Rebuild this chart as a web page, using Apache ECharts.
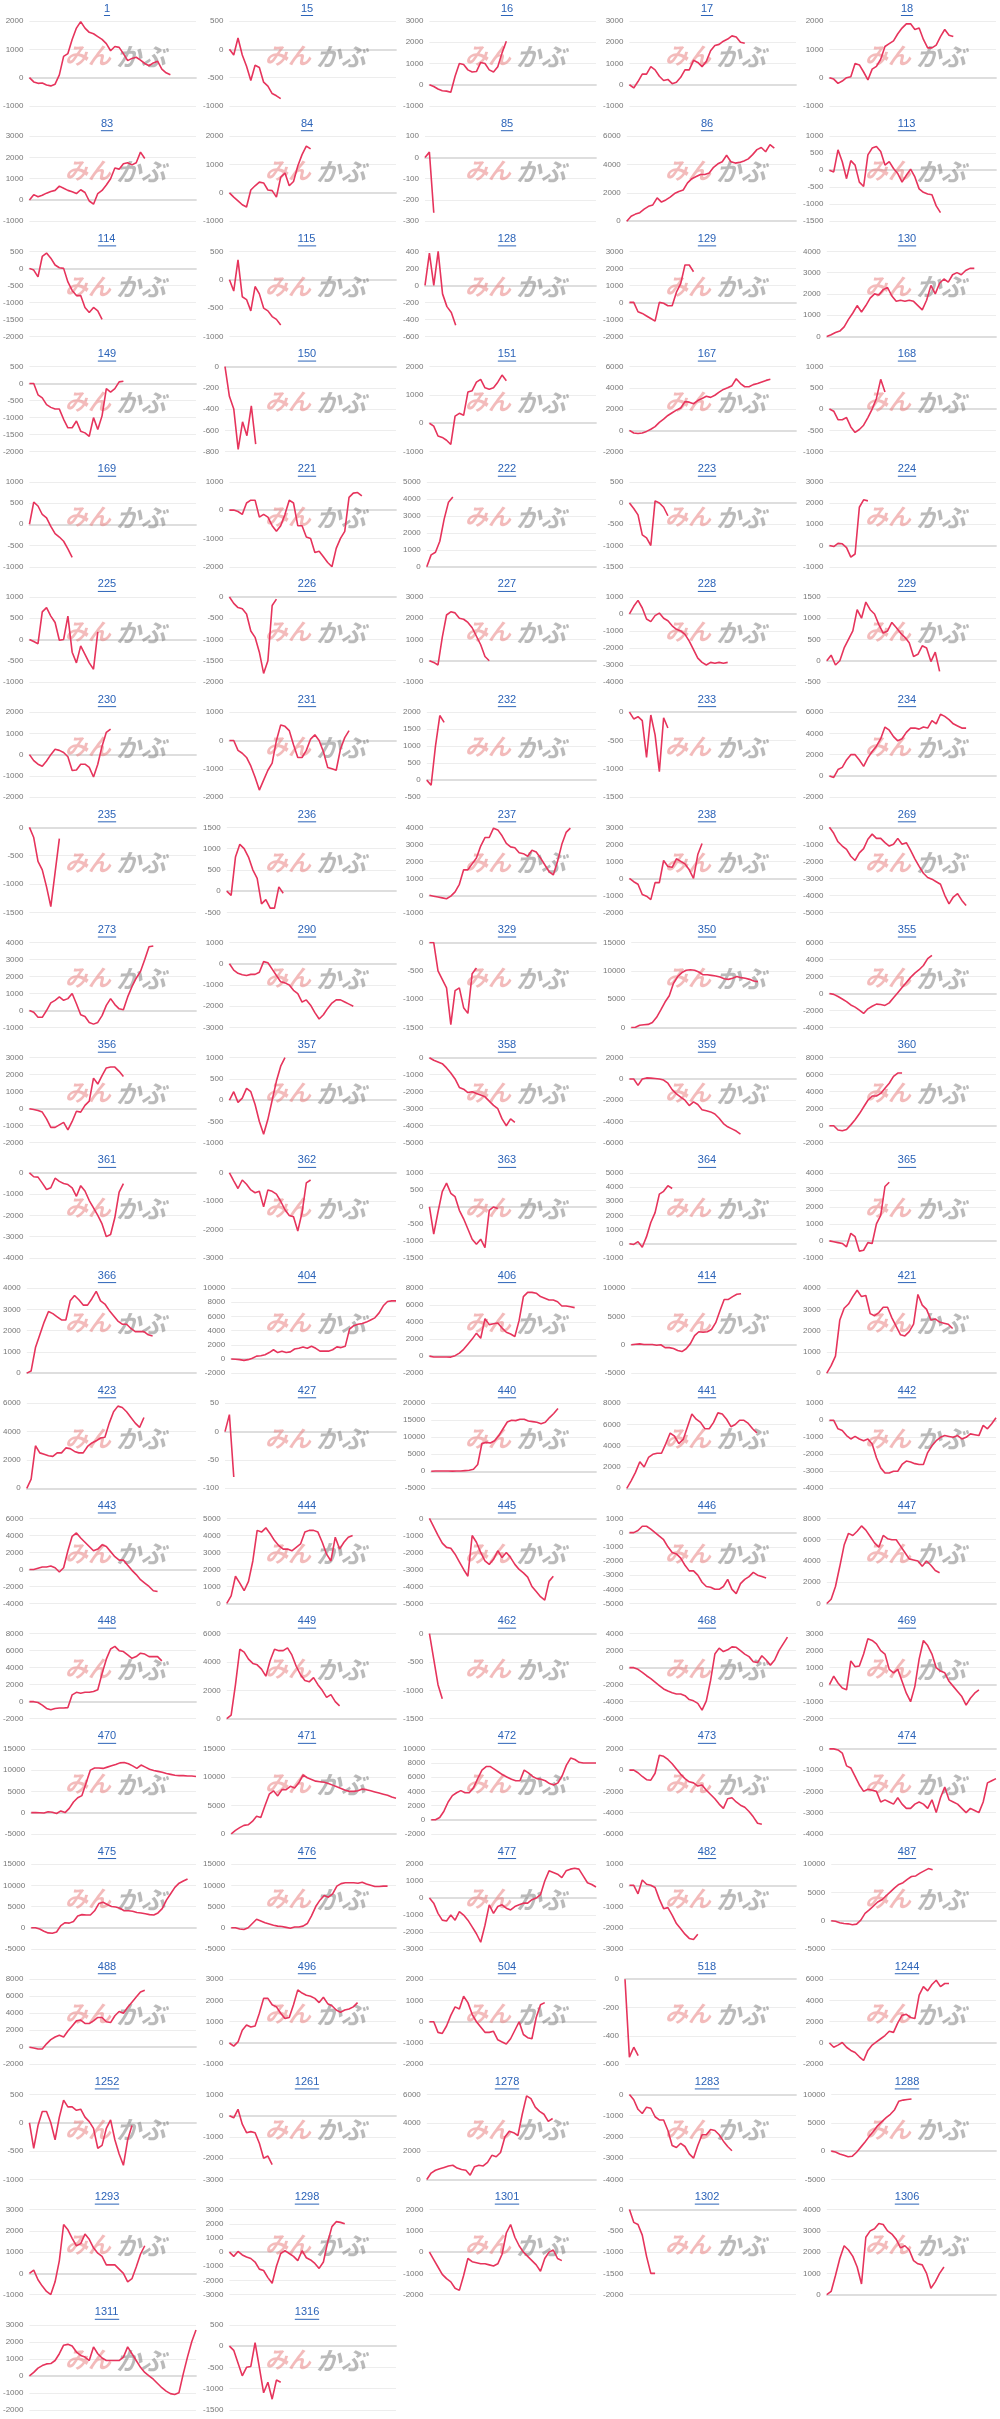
<!DOCTYPE html>
<html>
<head>
<meta charset="utf-8">
<script src="https://cdn.jsdelivr.net/npm/echarts@6/dist/echarts.min.js"></script>
<style>
  html, body { margin: 0; padding: 0; background: #fff; }
  #main { width: 1000px; height: 2419px; }
</style>
</head>
<body>
<div id="main"></div>
<script>
// チャートの銘柄番号（表示順）
const ids = [1,15,16,17,18,83,84,85,86,113,114,115,128,129,130,149,150,151,167,168,
  169,221,222,223,224,225,226,227,228,229,230,231,232,233,234,235,236,237,238,269,
  273,290,329,350,355,356,357,358,359,360,361,362,363,364,365,366,404,406,414,421,
  423,427,440,441,442,443,444,445,446,447,448,449,462,468,469,470,471,472,473,474,
  475,476,477,482,487,488,496,504,518,1244,1252,1261,1278,1283,1288,1293,1298,1301,1302,1306,
  1311,1316];

// y軸の範囲と目盛り間隔
const yMin = [-1000,-1000,-1000,-1000,-1000,-1000,-1000,-300,0,-1500,-2000,-1000,-600,-2000,0,-2000,-800,-1000,-2000,-1000,
  -1000,-2000,0,-1500,-1000,-1000,-2000,-1000,-4000,-500,-2000,-2000,-500,-1500,-2000,-1500,-500,-1000,-2000,-5000,
  -1000,-3000,-1500,0,-4000,-2000,-1000,-5000,-6000,-2000,-4000,-3000,-1500,-1000,-1000,0,-2000,-2000,-5000,0,
  0,-100,-5000,0,-4000,-4000,0,-5000,-5000,0,-2000,0,-1500,-6000,-2000,-5000,0,-2000,-6000,-4000,
  -5000,-5000,-3000,-3000,-5000,-2000,-1000,-2000,-600,-2000,-1000,-3000,0,-4000,-5000,-1000,-3000,-2000,-2000,0,
  -2000,-1500];
const yMax = [2000,500,3000,3000,2000,3000,2000,100,6000,1000,500,500,400,3000,4000,500,0,2000,6000,1000,
  1000,1000,5000,500,3000,1000,0,3000,1000,1500,2000,1000,2000,0,6000,0,1500,4000,3000,0,
  4000,1000,0,15000,6000,3000,1000,0,2000,8000,0,0,1000,5000,4000,4000,10000,8000,10000,4000,
  6000,50,20000,8000,1000,6000,5000,0,1000,8000,8000,6000,0,4000,3000,15000,15000,10000,2000,0,
  15000,15000,2000,1000,10000,8000,3000,2000,0,6000,500,1000,6000,0,10000,3000,3000,2000,0,4000,
  3000,500];
const yStep = [1000,500,1000,1000,1000,1000,1000,100,2000,500,500,500,200,1000,1000,500,200,1000,2000,500,
  500,1000,1000,500,1000,500,500,1000,1000,500,1000,1000,500,500,2000,500,500,1000,1000,1000,
  1000,1000,500,5000,2000,1000,500,1000,2000,2000,1000,1000,500,1000,1000,1000,2000,2000,5000,1000,
  2000,50,5000,2000,1000,2000,1000,1000,1000,2000,2000,2000,500,2000,1000,5000,5000,2000,2000,1000,
  5000,5000,1000,1000,5000,2000,1000,1000,200,2000,500,1000,2000,1000,5000,1000,1000,1000,500,1000,
  1000,500];

// 損益推移（各チャートの系列）
const d1 = [0,-150,-200,-190,-260,-290,-230,100,750,850,1350,1750,1980,1750,1600,1550,1450,1350,1200,950,1100,1070,850,600,680,720,620,500,420,520,580,300,170,100];
const d15 = [0,-100,200,-100,-300,-550,-280,-320,-580,-650,-780,-820,-870];
const d16 = [0,-80,-200,-280,-300,-350,400,1000,950,700,600,620,1050,1000,700,600,850,1500,2050];
const d17 = [0,-150,150,500,500,850,700,400,200,250,50,120,350,700,700,1150,1050,850,1100,1600,1850,1900,2050,2150,2300,2250,2000,1950];
const d18 = [0,-50,-200,-120,0,30,500,450,200,-80,300,400,650,1100,1200,1300,1550,1750,1900,1900,1700,1750,1350,1050,1050,1150,1450,1700,1500,1450];
const d83 = [0,250,150,220,320,400,450,650,550,450,380,300,480,350,-50,-200,300,450,700,1000,1500,1450,1700,1750,1650,1750,2250,1950];
const d84 = [0,-150,-280,-420,-500,100,250,380,350,100,80,-150,550,700,250,400,950,1350,1650,1550];
const d85 = [0,25,-260];
const d86 = [0,350,500,600,850,1050,1150,1650,1350,1500,1700,1950,2100,2200,2700,3000,3150,3300,3300,3400,3800,4050,4200,4650,4200,4100,4150,4250,4400,4700,5050,5200,4900,5400,5150];
const d113 = [0,-50,600,250,-250,280,150,-350,-480,450,650,700,550,150,250,50,-100,-350,-150,30,-200,-550,-650,-700,-720,-1050,-1250];
const d114 = [0,-50,-250,350,450,300,100,20,0,-400,-650,-800,-800,-1150,-1300,-1150,-1250,-1500];
const d115 = [0,-200,350,-300,-350,-550,-120,-250,-500,-550,-650,-700,-800];
const d128 = [0,380,0,400,-100,-250,-320,-470];
const d129 = [0,0,-550,-650,-800,-950,-1100,0,-50,-200,-200,600,1100,2200,2200,1800];
const d130 = [0,80,180,250,450,800,1100,1450,1150,1450,1800,2000,1950,2200,2300,1900,1650,1700,1650,1700,1650,1450,1250,1700,2400,2000,2500,2700,2550,2900,3000,2900,3100,3200,3200];
const d149 = [0,0,-330,-420,-620,-700,-750,-750,-1050,-1300,-1300,-1100,-1400,-1450,-1550,-1000,-1350,-950,-150,-250,-150,50,70];
const d150 = [0,-280,-400,-780,-520,-650,-370,-730];
const d151 = [0,-100,-450,-500,-600,-750,250,350,280,1100,1150,1450,1550,1250,1200,1250,1450,1700,1500];
const d167 = [0,-250,-300,-250,-100,100,350,750,1050,1400,1650,1900,2100,2700,2650,2500,2800,3000,3200,3100,3300,3600,3850,4000,4200,4850,4400,4100,4100,4300,4400,4550,4700,4800];
const d168 = [0,-50,-250,-250,-200,-420,-550,-480,-380,-200,0,250,700,400];
const d169 = [0,520,430,230,150,-50,-220,-300,-400,-580,-780];
const d221 = [0,0,-50,-150,250,350,350,-250,-150,-250,-550,-750,-550,-150,350,250,-550,-550,-950,-1000,-1500,-1450,-1650,-1850,-2000,-1350,-1000,-750,450,600,620,500];
const d222 = [0,700,850,1500,2800,3800,4100];
const d223 = [0,-130,-280,-750,-820,-1000,50,0,-100,-300];
const d224 = [0,-50,100,80,-100,-550,-400,1800,2150,2100];
const d225 = [0,-50,-100,650,750,550,400,-20,0,550,-300,-550,-150,-350,-550,-700,180];
const d226 = [0,-150,-250,-280,-400,-800,-950,-1300,-1800,-1500,-200,-50];
const d227 = [0,-80,-200,1100,2150,2300,2250,2000,1950,1800,1550,1150,750,200,0];
const d228 = [0,450,800,350,-300,-450,-100,50,-250,-400,-700,-900,-1000,-1200,-1600,-2100,-2600,-2850,-3000,-2850,-2900,-2850,-2900,-2850];
const d229 = [0,130,-100,0,300,500,700,1200,1000,1380,1200,1100,850,650,700,900,780,650,550,420,100,150,350,300,-20,200,-250];
const d230 = [0,-280,-450,-550,-300,0,250,200,100,-100,-750,-720,-450,-450,-600,-1050,-450,400,1050,1200];
const d231 = [0,0,-350,-450,-600,-900,-1300,-1750,-1400,-1050,-800,0,550,500,350,-150,-600,-600,-350,50,200,0,-400,-950,-1000,-1050,-300,100,350];
const d232 = [0,-150,1000,1900,1700];
const d233 = [0,-120,-80,-150,-800,-50,-400,-1050,-100,-280];
const d234 = [0,-150,600,800,1500,2000,2000,1500,900,1700,2300,2800,3500,4600,4300,3700,3300,3500,4100,4500,4500,4400,4600,4500,5200,4900,5800,5600,5300,4900,4700,4500,4500];
const d235 = [0,-180,-600,-750,-1050,-1400,-800,-200];
const d236 = [0,-100,800,1100,1000,800,500,300,-300,-200,-400,-400,100,-50];
const d237 = [0,-50,-100,-150,-200,-50,200,650,1500,1500,1850,2200,2900,3400,3400,3950,3850,3500,3050,2850,2800,2500,2450,2300,2650,2550,2200,1800,1400,1200,2000,3000,3700,3950];
const d238 = [0,-200,-350,-950,-1050,-1250,-250,-250,1050,700,650,1150,1000,850,500,0,1400,2050];
const d269 = [0,-350,-850,-1100,-1300,-1700,-1950,-1500,-1250,-700,-400,-650,-650,-900,-1100,-1000,-650,-1000,-900,-1350,-1850,-2300,-2700,-2950,-3050,-3200,-3350,-4000,-4500,-4100,-3900,-4300,-4600];
const d273 = [0,-100,-400,-400,0,450,600,800,600,700,1000,400,-250,-350,-700,-800,-700,-300,300,700,350,100,50,800,1400,1900,2300,3000,3750,3800];
const d290 = [0,-300,-450,-520,-550,-500,-500,-400,100,50,-250,-550,-850,-900,-1000,-1250,-1400,-1800,-1700,-1950,-2300,-2600,-2400,-2100,-1850,-1700,-1700,-1800,-1900,-2000];
const d329 = [0,0,-500,-650,-800,-1450,-850,-800,-1150,-1250,-550,-450];
const d350 = [0,50,400,500,550,900,1800,3100,4500,5600,7800,9000,9700,10100,10200,10100,9800,9300,9300,9200,9100,8900,8600,8500,8700,9000,8800,8700,8500,8200,8100];
const d355 = [0,-100,-350,-650,-950,-1350,-1600,-1950,-2350,-1800,-1500,-1250,-1300,-1400,-1100,-500,100,700,1300,1900,2400,2800,3300,4100,4500];
const d356 = [0,-50,-100,-200,-600,-1100,-1100,-950,-800,-1250,-750,-150,-200,200,450,1800,1450,1950,2400,2450,2450,2200,1900];
const d357 = [0,200,-50,50,280,200,-100,-500,-800,-450,0,450,800,1000];
const d358 = [0,-150,-250,-350,-600,-900,-1250,-1750,-1850,-2050,-2000,-2100,-2200,-2300,-2550,-2800,-3000,-3600,-4000,-3600,-3800];
const d359 = [0,0,-600,0,100,80,50,0,-100,-400,-1000,-1400,-1700,-2000,-2500,-2150,-2400,-2900,-3000,-3100,-3300,-3700,-4200,-4500,-4700,-4900,-5200];
const d360 = [0,0,-500,-600,-450,100,700,1400,2200,3000,3500,3500,3800,4400,5000,5800,6200,6200];
const d361 = [0,-180,-200,-480,-780,-700,-250,-400,-500,-550,-700,-1100,-600,-850,-1300,-1650,-2000,-2400,-3000,-2900,-2100,-900,-500];
const d362 = [0,-280,-550,-250,-400,-600,-700,-650,-1200,-600,-650,-750,-1000,-1300,-1500,-1550,-2050,-1400,-350,-250];
const d363 = [0,-800,-150,450,700,400,300,-100,-350,-650,-950,-1100,-950,-1200,-100,0,-50];
const d364 = [0,-50,150,-250,500,1500,2200,3500,3700,4100,3900];
const d365 = [0,-50,-100,-150,-350,450,250,-600,-550,-100,-150,1000,1500,3200,3450];
const d366 = [0,100,1200,1800,2400,2900,2800,2650,2500,2500,3400,3650,3450,3200,3200,3500,3850,3400,3250,2950,2700,2450,2300,2300,2100,1950,1950,1950,1800,1750];
const d404 = [0,-50,-100,-200,-100,100,400,450,600,900,1300,900,1100,900,1000,1400,1500,1700,1500,1800,1500,1100,1100,1100,1300,1700,1600,1800,4200,4700,4900,5000,5200,5500,5800,6500,7500,8100,8200,8200];
const d406 = [0,-100,-100,-100,-100,-120,50,350,800,1400,2000,2700,2100,4400,3700,3800,3900,3300,2800,2600,2300,4200,7000,7500,7500,7400,7000,6800,6600,6600,6400,5900,5900,5800,5700];
const d414 = [0,100,150,50,50,50,-100,0,-500,-500,-650,-1000,-1200,-700,200,1600,2300,2200,2300,2700,3900,6000,8000,8000,8500,8900,9000];
const d421 = [0,350,800,2500,3050,3250,3600,3900,3600,3650,2800,2700,2850,3100,3100,2600,2200,1800,1750,1950,2300,3700,3200,3000,2500,2550,2400,2350,2300,2100];
const d423 = [0,650,3000,2500,2400,2300,2250,2500,2500,2850,2800,2600,2500,2500,2950,3200,3350,3550,3600,4600,5400,5800,5700,5400,5000,4600,4300,5000];
const d427 = [0,30,-80];
const d440 = [0,100,100,100,100,50,100,100,200,300,600,2000,8200,8500,8300,9000,10500,12500,14500,15000,14900,15300,15300,14800,14600,14400,14000,14400,15800,17000,18500];
const d441 = [0,700,1500,2500,2000,2900,3200,3300,3300,4200,5200,4900,4200,4600,5800,7000,6500,6200,5600,5600,6200,7100,7000,6500,5800,6000,6400,6400,6100,5600,5200];
const d442 = [0,0,-500,-600,-900,-1100,-950,-1100,-1200,-1100,-1400,-2200,-2800,-3100,-3100,-3000,-3000,-2600,-2400,-2450,-2550,-2600,-2600,-1900,-1500,-1200,-1000,-900,-950,-1000,-900,-1100,-1000,-800,-850,-900,-300,-500,-200,150];
const d443 = [0,0,150,300,300,400,200,-300,200,2200,3900,4300,3700,3200,2700,2200,2400,2900,2700,2100,1500,1100,1100,500,-100,-600,-1200,-1600,-2000,-2500,-2600];
const d444 = [0,450,1600,1200,750,1300,2500,4300,4200,4450,4100,3700,3400,3200,3200,3100,3300,3500,4200,4300,4300,4200,3600,2900,2500,3900,3200,3600,3900,4000];
const d445 = [0,-500,-1000,-1450,-1700,-1750,-2100,-2550,-3000,-3400,-1000,-1400,-2000,-2500,-2700,-2400,-1900,-2300,-2000,-2300,-2700,-3000,-3200,-3450,-4000,-4300,-4600,-4800,-3700,-3400];
const d446 = [0,0,150,450,450,250,0,-250,-500,-1000,-1400,-1500,-1800,-2300,-2700,-2700,-3000,-3500,-3800,-3850,-4000,-4000,-3800,-3300,-4000,-4300,-3600,-3300,-3100,-2800,-3000,-3100,-3200];
const d447 = [0,400,1600,3500,5500,6600,6400,6800,7300,6900,6300,5700,5300,6400,6100,6000,6000,5400,4800,4200,4100,4000,3500,4000,3600,3100,2900];
const d448 = [0,0,-100,-400,-800,-950,-800,-750,-750,-700,800,1100,1000,1100,1100,1200,1400,3300,5000,6200,6500,6000,5900,5500,5100,5300,5700,5600,5300,5300,5300,4800];
const d449 = [0,250,2400,4900,4700,4200,3900,3800,3500,3000,4100,4900,4800,4800,5000,4500,3700,3100,2700,2600,2900,2400,2000,1500,1700,1200,900];
const d462 = [0,-450,-900,-1150];
const d468 = [0,0,-200,-550,-950,-1300,-1700,-2100,-2500,-2750,-2950,-3100,-3100,-3300,-3750,-3900,-4200,-5000,-3900,-1500,1600,2300,1900,2100,2450,2400,2000,1600,1300,700,600,1400,900,300,900,2000,2800,3600];
const d469 = [0,500,100,-200,-300,1400,1050,1100,1800,2700,2600,2400,2000,1800,900,700,900,200,-500,-1000,-100,1500,2600,2300,1800,1000,800,700,200,-100,-400,-700,-1200,-800,-500,-300];
const d470 = [0,0,-50,-100,200,100,-200,400,0,1000,2500,3500,4000,7000,10000,10500,10500,10400,10700,11000,11300,11700,11800,11500,11000,10400,11200,10700,10200,9900,9700,9500,9200,9000,8800,8700,8700,8600,8600,8500];
const d471 = [0,600,1100,1500,1600,2200,3100,2900,5000,7000,7600,6700,7800,7800,8400,8100,9000,10400,9900,9600,9300,9200,9100,8900,8600,8300,8000,7700,7500,7500,7600,7900,7800,7600,7400,7200,7000,6800,6500,6300];
const d472 = [0,0,300,1200,2500,3400,3800,4100,3800,3800,4500,5800,7000,7500,7500,7100,6700,6300,6000,5700,5500,5500,7000,6600,6100,5800,5700,5500,5100,4900,5200,6200,7700,8700,8500,8100,8000,8000,8000,8000];
const d473 = [0,0,-250,-600,-900,-950,-300,1400,1300,1000,600,100,-400,-800,-1100,-1200,-1500,-1400,-1900,-2300,-2700,-3200,-3600,-2700,-2600,-3000,-3300,-3500,-3900,-4400,-5000,-5100];
const d474 = [0,0,-50,-200,-800,-900,-1300,-1700,-2000,-1900,-1950,-2000,-2500,-2400,-2500,-2600,-2300,-2600,-2800,-2800,-2600,-2500,-2600,-2800,-2400,-3000,-2300,-1800,-2400,-2500,-2600,-2800,-3000,-2800,-2900,-3000,-2500,-1600,-1500,-1400];
const d475 = [0,0,-300,-800,-1200,-1300,-1000,500,1200,1100,1500,2800,3100,3000,3000,4000,5700,6000,5500,5000,4900,4600,4000,4000,3900,3600,3500,3300,3100,3000,3500,4500,6500,8000,9500,10500,11000,11500];
const d476 = [0,0,-300,-400,0,1000,2000,1600,1200,900,600,400,300,100,-100,200,200,400,1000,2800,5000,6500,7600,7200,8000,9800,10400,10600,10600,10600,10500,10700,10300,10000,9700,9700,9800,9800];
const d477 = [0,-300,-900,-1300,-1350,-1000,-1300,-800,-1000,-1300,-1700,-2100,-2600,-1600,-400,-900,-500,-400,-600,-700,-500,-400,-300,-300,-100,0,200,1000,1600,1500,1400,1200,1600,1700,1750,1700,1300,900,800,650];
const d482 = [0,0,-400,250,50,0,-100,-650,-1100,-1050,-1400,-1800,-2050,-2300,-2500,-2550,-2300];
const d487 = [0,-100,-350,-500,-550,-700,-600,100,1300,1900,2600,3300,3700,4400,5100,5800,6400,6700,7300,7800,7900,8400,8800,9200,9000];
const d488 = [0,-100,-200,-200,400,900,1200,1400,1200,1900,2500,3100,3200,2800,2800,3100,3500,3500,3000,2900,3700,4200,4000,4700,5300,5900,6500,6700];
const d496 = [0,-150,50,600,850,750,800,1400,2100,2100,1800,1700,1400,1150,1200,1800,2500,2350,2250,2200,2100,1900,2150,1850,1750,1550,1450,1550,1600,1700,1900];
const d504 = [0,0,-500,-550,-200,300,700,600,1200,900,350,0,-250,-500,-500,-450,-850,-950,-1050,-800,-400,0,-600,-750,-800,200,800,900];
const d518 = [0,-550,-480,-540];
const d1244 = [0,-400,-200,50,-400,-700,-900,-1300,-1650,-700,-200,100,400,700,1100,1000,1900,2600,2700,2400,2300,4500,5300,4900,5500,5900,5300,5600,5600];
const d1252 = [0,-450,-50,200,200,0,-300,100,400,280,280,220,240,100,20,-100,-450,-400,-100,50,-300,-550,-750,-300,-50];
const d1261 = [0,-100,300,-400,-800,-750,-800,-1300,-2000,-1900,-2300];
const d1278 = [0,450,650,750,850,950,1000,800,700,650,300,900,1000,950,1200,1700,1600,1900,3000,3400,3300,3100,4600,5900,5700,5100,4800,4600,4100,4300];
const d1283 = [0,-250,-700,-900,-600,-650,-1050,-1200,-1200,-1700,-2400,-2500,-2300,-2450,-2800,-3000,-2400,-1900,-1900,-1650,-1700,-1900,-2200,-2450,-2650];
const d1288 = [0,-150,-500,-750,-1000,-900,-200,700,1600,2600,3500,4500,5200,5900,6500,7300,8800,9000,9100,9200];
const d1293 = [0,150,-300,-600,-850,-1000,-400,600,2300,2050,1650,1300,1400,1850,1600,1200,950,800,400,400,400,200,0,-400,-250,300,900,1300];
const d1298 = [0,-300,50,-200,-350,-450,-700,-1200,-1300,-1800,-2200,-1000,-100,100,-100,-300,-600,100,-400,-550,-800,-1150,-700,700,1800,2150,2100,2000];
const d1301 = [0,-350,-700,-1050,-1250,-1400,-1700,-1800,-1100,-300,-450,-500,-550,-550,-600,-650,-550,-100,900,1300,700,300,0,-200,-400,-600,-900,-300,0,100,-300,-400];
const d1302 = [0,-300,-350,-600,-1100,-1500,-1500];
const d1306 = [0,150,900,1700,2300,2100,1800,1300,500,2700,3000,3100,3350,3300,3000,2850,2600,2200,2300,2100,1600,1450,1400,1000,300,600,1000,1300];
const d1311 = [0,200,450,600,700,720,900,1300,1800,1850,1750,1400,1200,1100,900,1700,1300,1050,900,900,900,900,1100,1700,1300,900,500,200,0,-200,-450,-700,-900,-1050,-1100,-1000,100,1100,2000,2700];
const d1316 = [0,-100,-400,-700,-500,-480,80,-500,-1100,-850,-1250,-800,-850];

const data = [d1,d15,d16,d17,d18,d83,d84,d85,d86,d113,d114,d115,d128,d129,d130,d149,d150,d151,d167,d168,
  d169,d221,d222,d223,d224,d225,d226,d227,d228,d229,d230,d231,d232,d233,d234,d235,d236,d237,d238,d269,
  d273,d290,d329,d350,d355,d356,d357,d358,d359,d360,d361,d362,d363,d364,d365,d366,d404,d406,d414,d421,
  d423,d427,d440,d441,d442,d443,d444,d445,d446,d447,d448,d449,d462,d468,d469,d470,d471,d472,d473,d474,
  d475,d476,d477,d482,d487,d488,d496,d504,d518,d1244,d1252,d1261,d1278,d1283,d1288,d1293,d1298,d1301,d1302,d1306,
  d1311,d1316];

const N = 40; // x軸のカテゴリ数
const days = Array.from({ length: N }, (_, i) => i);

const cellW = 200;
const cellH = 2419 / 21;
const labelFont = '"Liberation Sans", Arial, sans-serif';

// 目盛りラベルの幅を測って、グラフ左端を決める
const ctx = document.createElement('canvas').getContext('2d');
ctx.font = '8px ' + labelFont;
function labelWidth(i) {
  let w = 0;
  for (let v = yMin[i]; v <= yMax[i]; v += yStep[i]) {
    w = Math.max(w, ctx.measureText(String(v)).width);
  }
  return w;
}

const grids = [], xAxes = [], yAxes = [], series = [], titles = [], graphics = [];

ids.forEach((id, i) => {
  const cx = (i % 5) * cellW;
  const cy = Math.floor(i / 5) * cellH;
  const left = cx + 3 + labelWidth(i) + 6;
  const right = cx + 196;

  grids.push({ left: left, top: cy + 21, width: right - left, height: 85 });

  xAxes.push({
    type: 'category', gridIndex: i, data: days, boundaryGap: false,
    axisLine: { onZero: true, lineStyle: { color: '#dedede', width: 1.8 } },
    axisTick: { show: false }, axisLabel: { show: false }, splitLine: { show: false }
  });

  yAxes.push({
    type: 'value', gridIndex: i, min: yMin[i], max: yMax[i], interval: yStep[i],
    axisLine: { show: false }, axisTick: { show: false },
    axisLabel: { fontSize: 8, color: '#777', margin: 6, fontFamily: labelFont, formatter: v => String(v) },
    splitLine: { lineStyle: { color: '#ededed', width: 1 } }
  });

  series.push({
    type: 'line', xAxisIndex: i, yAxisIndex: i, data: data[i],
    showSymbol: false, symbol: 'none',
    lineStyle: { color: '#e6345c', width: 1.6 }, z: 3
  });

  // タイトル（リンク風、中央揃え）
  const tw = String(id).length * 6.1;
  const tx = cx + 107 - tw / 2;
  titles.push({
    text: String(id), left: tx, top: cy + 3, textAlign: 'left', padding: 0,
    textStyle: { fontSize: 11, fontWeight: 'normal', color: '#2b63b8', fontFamily: labelFont }
  });
  graphics.push({
    type: 'line', silent: true, z: 5,
    shape: { x1: tx, y1: cy + 15.5, x2: tx + tw, y2: cy + 15.5 },
    style: { stroke: '#2b63b8', lineWidth: 1 }
  });

  // ロゴの透かし
  graphics.push({
    type: 'text', silent: true, z: 1, x: cx + 65, y: cy + 44,
    style: { text: 'みん', fill: 'rgba(232,120,120,0.5)', font: 'italic bold 23px "Noto Sans CJK JP"' }
  });
  graphics.push({
    type: 'text', silent: true, z: 1, x: cx + 116, y: cy + 44,
    style: { text: 'かぶ', fill: 'rgba(130,130,130,0.55)', font: 'italic bold 25px "Noto Sans CJK JP"' }
  });
});

const myChart = echarts.init(document.getElementById('main'));
myChart.setOption({
  animation: false,
  backgroundColor: '#fff',
  title: titles,
  grid: grids,
  xAxis: xAxes,
  yAxis: yAxes,
  series: series,
  graphic: { elements: graphics }
});
</script>
</body>
</html>
